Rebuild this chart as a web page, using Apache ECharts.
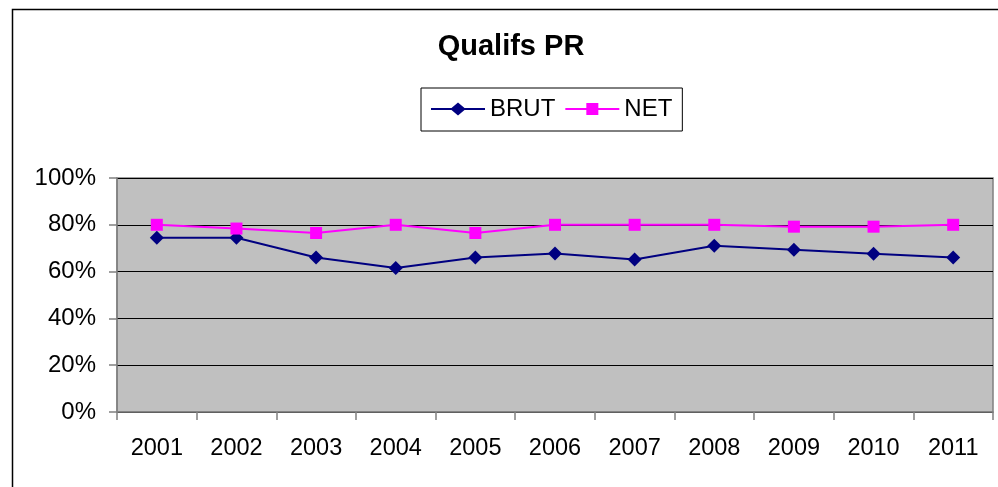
<!DOCTYPE html>
<html>
<head>
<meta charset="utf-8">
<script src="https://cdn.jsdelivr.net/npm/echarts@6/dist/echarts.min.js"></script>
<style>
html,body{margin:0;padding:0;background:#fff;}
#c{width:998px;height:487px;}
</style>
</head>
<body>
<div id="c"></div>
<script>
var years = ['2001','2002','2003','2004','2005','2006','2007','2008','2009','2010','2011'];
var brut = [74.5, 74.5, 66, 61.5, 66, 67.7, 65.2, 71, 69.3, 67.6, 66];
var net = [80, 78.4, 76.5, 80, 76.5, 80, 80, 80, 79.2, 79.2, 80];
var yTicks = [0, 20, 40, 60, 80, 100];

var diamondIcon = 'path://M0,5.5L20.5,5.5L27,0L33.5,5.5L54,5.5L54,7.5L33.5,7.5L27,13L20.5,7.5L0,7.5Z';
var squareIcon = 'path://M0,5.5L21,5.5L21,0.5L33,0.5L33,5.5L54,5.5L54,7.5L33,7.5L33,12.5L21,12.5L21,7.5L0,7.5Z';

var chart = echarts.init(document.getElementById('c'), null, {renderer:'canvas'});
var font = 'Liberation Sans, Arial, sans-serif';
chart.setOption({
  animation: false,
  backgroundColor: '#fff',
  textStyle: {fontFamily: font},
  graphic: [{
    type: 'rect', left: 10, top: 7, z: -10,
    shape: {x: 0, y: 0, width: 1010, height: 500},
    style: {fill: 'none', stroke: '#000', lineWidth: 1.5}
  }],
  title: {
    text: 'Qualifs PR',
    left: 506, top: 27, textAlign: 'center',
    textStyle: {fontFamily: font, fontSize: 29, fontWeight: 'bold', color: '#000'}
  },
  legend: {
    left: 421, top: 88,
    padding: [9, 10, 10, 10],
    borderColor: '#000', borderWidth: 1,
    itemWidth: 54, itemHeight: 13, itemGap: 10,
    textStyle: {fontFamily: font, fontSize: 24, color: '#000'},
    data: [{name: 'BRUT', icon: diamondIcon}, {name: 'NET', icon: squareIcon}]
  },
  grid: {left: 117, right: 5, top: 178, bottom: 75, show: true,
    backgroundColor: '#C0C0C0', borderColor: '#808080', borderWidth: 1.5},
  xAxis: {
    type: 'category', data: years, boundaryGap: true,
    axisLine: {lineStyle: {color: '#808080', width: 1.5}},
    axisTick: {show: true, length: 8, lineStyle: {color: '#808080', width: 1.5}},
    axisLabel: {color: '#000', fontSize: 23.5, fontFamily: font, margin: 25}
  },
  yAxis: {
    type: 'value', min: 0, max: 100, interval: 20,
    axisLine: {show: true, lineStyle: {color: '#808080', width: 1.5}},
    axisTick: {show: true, length: 8, lineStyle: {color: '#808080', width: 1.5}},
    splitLine: {lineStyle: {color: '#000', width: 1}},
    axisLabel: {color: '#000', fontSize: 24, fontFamily: font, margin: 21,
      formatter: function (v) { return yTicks.indexOf(v) >= 0 ? v + '%' : ''; }}
  },
  series: [{
    name: 'BRUT', type: 'line', data: brut,
    symbol: 'diamond', symbolSize: 14,
    lineStyle: {color: '#000080', width: 2},
    itemStyle: {color: '#000080'}
  }, {
    name: 'NET', type: 'line', data: net,
    symbol: 'rect', symbolSize: 12,
    lineStyle: {color: '#FF00FF', width: 2},
    itemStyle: {color: '#FF00FF'}
  }]
});
</script>
</body>
</html>
